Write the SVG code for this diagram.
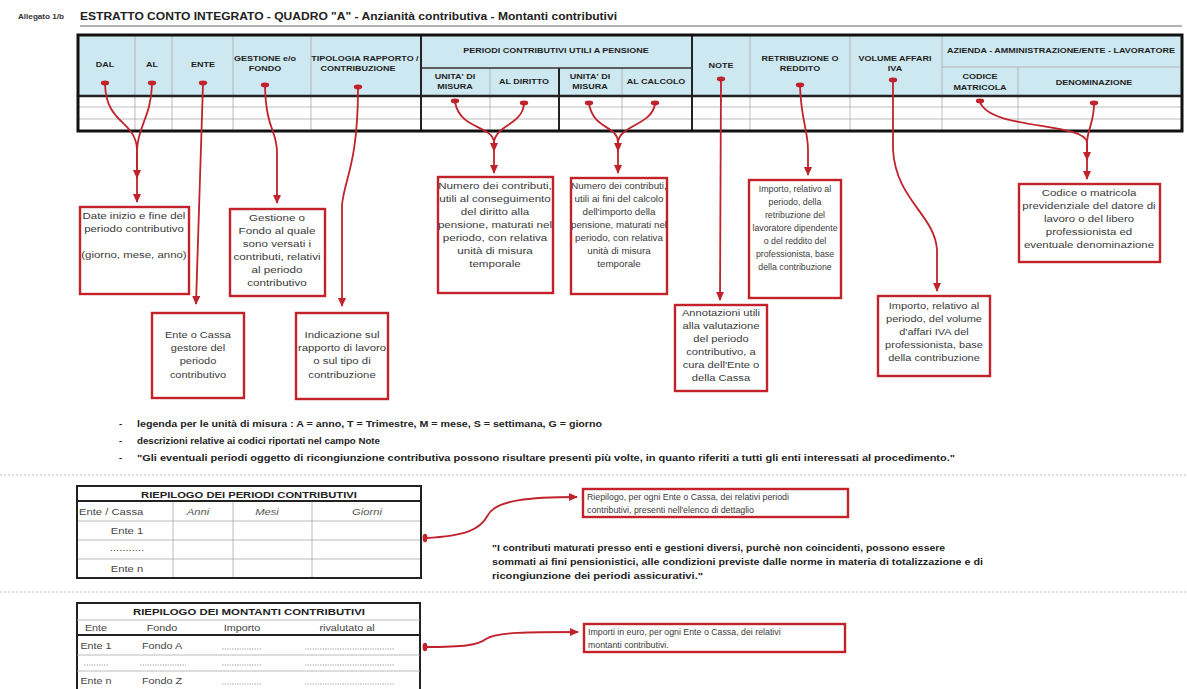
<svg xmlns="http://www.w3.org/2000/svg" width="1187" height="689" viewBox="0 0 1187 689">
<style>
text{font-family:"Liberation Sans",Arial,sans-serif}
.hd{font-size:7.5px;font-weight:bold;fill:#1e1e1e;text-anchor:middle}
.bx{fill:#fff;stroke:#c4222b;stroke-width:2.4}
.bt{font-size:8.8px;fill:#3a3a3a;text-anchor:middle}
.btl{font-size:8.8px;fill:#3a3a3a}
.con{fill:none;stroke:#c0232c;stroke-width:1.8}
.dot{fill:#c0232c}
.thin{stroke:#aaa;stroke-width:0.8}
.thick{stroke:#222;stroke-width:2}
.lg{font-size:9.4px;font-weight:bold;fill:#222}
.tt{font-size:9px;fill:#444}
.ti{font-size:9px;fill:#555;font-style:italic;text-anchor:middle}
.sep{stroke:#bbb;stroke-width:1;stroke-dasharray:2 2}
</style>
<defs>
<marker id="arr" markerWidth="9" markerHeight="8" refX="8" refY="4" orient="auto" markerUnits="userSpaceOnUse" viewBox="0 0 9 8">
<path d="M0,0 L9,4 L0,8 Z" fill="#c0232c"/>
</marker>
</defs>

<rect width="1187" height="689" fill="#fff"/>

<!-- header -->
<g id="header">
<text x="18" y="19" font-size="7.5" font-weight="bold" fill="#333" textLength="46" lengthAdjust="spacingAndGlyphs">Allegato 1/b</text>
<text x="80" y="20" font-size="10.6" font-weight="bold" fill="#222" textLength="537" lengthAdjust="spacingAndGlyphs">ESTRATTO CONTO INTEGRATO - QUADRO "A" - Anzianità contributiva - Montanti contributivi</text>
<line x1="80" y1="26" x2="1182" y2="26" stroke="#999" stroke-width="1.6"/>
</g>

<!-- main table -->
<g id="main-table">
<rect x="78" y="35" width="1104" height="96" fill="#fff"/>
<rect x="78" y="35" width="1104" height="61" fill="#cde8f0"/>
<g class="thin">
<line x1="78" y1="107" x2="1182" y2="107"/>
<line x1="78" y1="119" x2="1182" y2="119"/>
<line x1="135" y1="35" x2="135" y2="131"/>
<line x1="172" y1="35" x2="172" y2="131"/>
<line x1="233" y1="35" x2="233" y2="131"/>
<line x1="311" y1="35" x2="311" y2="131"/>
<line x1="490" y1="68" x2="490" y2="131"/>
<line x1="622" y1="68" x2="622" y2="131"/>
<line x1="750" y1="35" x2="750" y2="131"/>
<line x1="850" y1="35" x2="850" y2="131"/>
<line x1="942" y1="35" x2="942" y2="131"/>
<line x1="1018" y1="67" x2="1018" y2="131"/>
<line x1="942" y1="67" x2="1182" y2="67"/>
</g>
<line x1="421" y1="35" x2="421" y2="131" class="thick"/>
<line x1="559" y1="68" x2="559" y2="131" class="thick"/>
<line x1="692" y1="35" x2="692" y2="131" class="thick"/>
<line x1="421" y1="68" x2="692" y2="68" stroke="#333" stroke-width="1.5"/>
<line x1="78" y1="96" x2="1182" y2="96" stroke="#222" stroke-width="2.5"/>
<rect x="78" y="35" width="1104" height="96" fill="none" stroke="#111" stroke-width="3"/>
<g transform="scale(1.2,1)">
<text class="hd" x="87.5" y="67">DAL</text>
<text class="hd" x="126.67" y="67">AL</text>
<text class="hd" x="169.17" y="67">ENTE</text>
<text class="hd" x="220.83" y="61">GESTIONE e/o</text>
<text class="hd" x="220.83" y="71">FONDO</text>
<text class="hd" x="304.17" y="61">TIPOLOGIA RAPPORTO /</text>
<text class="hd" x="298.33" y="71">CONTRIBUZIONE</text>
<text class="hd" x="463.33" y="53">PERIODI CONTRIBUTIVI UTILI A PENSIONE</text>
<text class="hd" x="379.17" y="79">UNITA' DI</text>
<text class="hd" x="379.17" y="89">MISURA</text>
<text class="hd" x="436.67" y="84">AL DIRITTO</text>
<text class="hd" x="491.67" y="79">UNITA' DI</text>
<text class="hd" x="491.67" y="89">MISURA</text>
<text class="hd" x="546.67" y="84">AL CALCOLO</text>
<text class="hd" x="600.83" y="68">NOTE</text>
<text class="hd" x="666.67" y="61">RETRIBUZIONE O</text>
<text class="hd" x="666.67" y="71">REDDITO</text>
<text class="hd" x="745.83" y="61">VOLUME AFFARI</text>
<text class="hd" x="745.83" y="71">IVA</text>
<text class="hd" x="884.17" y="53">AZIENDA - AMMINISTRAZIONE/ENTE - LAVORATORE</text>
<text class="hd" x="816.67" y="79">CODICE</text>
<text class="hd" x="816.67" y="90">MATRICOLA</text>
<text class="hd" x="911.67" y="85">DENOMINAZIONE</text>
</g>
</g>

<!-- connectors -->
<g id="connectors">
<g class="con">
<path d="M105,84 C106,125 136,120 137,150 L137,178" marker-end="url(#arr)"/>
<path d="M152,84 C151,118 138,125 137,150 L137,202" marker-end="url(#arr)"/>
<path d="M203,84 L196,304" marker-end="url(#arr)"/>
<path d="M265,86 C266,130 277,130 277,152 L277,203" marker-end="url(#arr)"/>
<path d="M358,88 C358,165 344,180 342,205 L342,306" marker-end="url(#arr)"/>
<path d="M455,102 C460,130 492,125 494,142 L494,151" marker-end="url(#arr)"/>
<path d="M524,104 C522,125 496,125 494,142 L494,173" marker-end="url(#arr)"/>
<path d="M589,104 C594,130 617,125 618,142 L618,173" marker-end="url(#arr)"/>
<path d="M655,104 C652,125 620,125 618,142 L618,151" marker-end="url(#arr)"/>
<path d="M721,80 L720,300" marker-end="url(#arr)"/>
<path d="M800,86 C801,120 808,130 808,150 L808,175" marker-end="url(#arr)"/>
<path d="M893,81 L893,150 C896,200 935,215 937,250 L937,291" marker-end="url(#arr)"/>
<path d="M980,102 C990,130 1083,122 1087,142 L1087,160" marker-end="url(#arr)"/>
<path d="M1094,104 C1094,122 1088,128 1087,142 L1087,179" marker-end="url(#arr)"/>
<path d="M426,538 C465,536 480,530 488,515 C496,500 530,497 577,497" marker-end="url(#arr)"/>
<path d="M426,647 C465,647 478,645 486,639 C496,632 530,632 578,632" marker-end="url(#arr)"/>
</g>
<g class="dot">
<ellipse cx="105" cy="83" rx="4.2" ry="2.4"/>
<ellipse cx="152" cy="83" rx="4.2" ry="2.4"/>
<ellipse cx="203" cy="83" rx="4.2" ry="2.4"/>
<ellipse cx="265" cy="85" rx="4.2" ry="2.4"/>
<ellipse cx="358" cy="87" rx="4.2" ry="2.4"/>
<ellipse cx="455" cy="101" rx="4.2" ry="2.4"/>
<ellipse cx="524" cy="103" rx="4.2" ry="2.4"/>
<ellipse cx="589" cy="103" rx="4.2" ry="2.4"/>
<ellipse cx="655" cy="103" rx="4.2" ry="2.4"/>
<ellipse cx="721" cy="79" rx="4.2" ry="2.4"/>
<ellipse cx="800" cy="85" rx="4.2" ry="2.4"/>
<ellipse cx="893" cy="80" rx="4.2" ry="2.4"/>
<ellipse cx="980" cy="101" rx="4.2" ry="2.4"/>
<ellipse cx="1094" cy="103" rx="4.2" ry="2.4"/>
<ellipse cx="425" cy="538" rx="2.4" ry="4.2"/>
<ellipse cx="425" cy="647" rx="2.4" ry="4.2"/>
</g>
</g>

<!-- description boxes -->
<g id="box-date">
<rect class="bx" x="80" y="207" width="109" height="87"/>
<g transform="matrix(1.3,0,0,1,-40.2,0)">
<text class="bt" x="134" y="219">Date inizio e fine del</text>
<text class="bt" x="134" y="232">periodo contributivo</text>
<text class="bt" x="134" y="258" font-size="7">(giorno, mese, anno)</text>
</g>
</g>
<g id="box-gestione">
<rect class="bx" x="230" y="209" width="95" height="87"/>
<g transform="matrix(1.32,0,0,1,-88.64,0)">
<text class="bt" x="277" y="221">Gestione o</text>
<text class="bt" x="277" y="234">Fondo al quale</text>
<text class="bt" x="277" y="247">sono versati i</text>
<text class="bt" x="277" y="260">contributi, relativi</text>
<text class="bt" x="277" y="273">al periodo</text>
<text class="bt" x="277" y="286">contributivo</text>
</g>
</g>
<g id="box-diritto">
<rect class="bx" x="438" y="177" width="115" height="116"/>
<g transform="matrix(1.32,0,0,1,-158.4,0)">
<text class="bt" x="495" y="189">Numero dei contributi,</text>
<text class="bt" x="495" y="202">utili al conseguimento</text>
<text class="bt" x="495" y="215">del diritto alla</text>
<text class="bt" x="495" y="228">pensione, maturati nel</text>
<text class="bt" x="495" y="241">periodo, con relativa</text>
<text class="bt" x="495" y="254">unità di misura</text>
<text class="bt" x="495" y="267">temporale</text>
</g>
</g>
<g id="box-calcolo">
<rect class="bx" x="571" y="178" width="96" height="116"/>
<g transform="matrix(1.11,0,0,1,-68.09,0)">
<text class="bt" x="619" y="189">Numero dei contributi,</text>
<text class="bt" x="619" y="202">utili ai fini del calcolo</text>
<text class="bt" x="619" y="215">dell'importo della</text>
<text class="bt" x="619" y="228">pensione, maturati nel</text>
<text class="bt" x="619" y="241">periodo, con relativa</text>
<text class="bt" x="619" y="254">unità di misura</text>
<text class="bt" x="619" y="267">temporale</text>
</g>
</g>
<g id="box-retribuzione">
<rect class="bx" x="749" y="180" width="92" height="118"/>
<text class="bt" x="795" y="192">Importo, relativo al</text>
<text class="bt" x="795" y="205">periodo, della</text>
<text class="bt" x="795" y="218">retribuzione del</text>
<text class="bt" x="795" y="231">lavoratore dipendente</text>
<text class="bt" x="795" y="244">o del reddito del</text>
<text class="bt" x="795" y="257">professionista, base</text>
<text class="bt" x="795" y="270">della contribuzione</text>
</g>
<g id="box-codice">
<rect class="bx" x="1019" y="184" width="141" height="78"/>
<g transform="matrix(1.3,0,0,1,-326.7,0)">
<text class="bt" x="1089" y="196">Codice o matricola</text>
<text class="bt" x="1089" y="209">previdenziale del datore di</text>
<text class="bt" x="1089" y="222">lavoro o del libero</text>
<text class="bt" x="1089" y="235">professionista ed</text>
<text class="bt" x="1089" y="248">eventuale denominazione</text>
</g>
</g>
<g id="box-ente">
<rect class="bx" x="152" y="313" width="92" height="85"/>
<g transform="matrix(1.25,0,0,1,-49.5,0)">
<text class="bt" x="198" y="338">Ente o Cassa</text>
<text class="bt" x="198" y="351">gestore del</text>
<text class="bt" x="198" y="364">periodo</text>
<text class="bt" x="198" y="378">contributivo</text>
</g>
</g>
<g id="box-tipologia">
<rect class="bx" x="296" y="313" width="92" height="86"/>
<g transform="matrix(1.29,0,0,1,-99.18,0)">
<text class="bt" x="342" y="338">Indicazione sul</text>
<text class="bt" x="342" y="351">rapporto di lavoro</text>
<text class="bt" x="342" y="364">o sul tipo di</text>
<text class="bt" x="342" y="378">contribuzione</text>
</g>
</g>
<g id="box-note">
<rect class="bx" x="675" y="305" width="92" height="86"/>
<g transform="matrix(1.27,0,0,1,-194.67,0)">
<text class="bt" x="721" y="316">Annotazioni utili</text>
<text class="bt" x="721" y="329">alla valutazione</text>
<text class="bt" x="721" y="342">del periodo</text>
<text class="bt" x="721" y="355">contributivo, a</text>
<text class="bt" x="721" y="368">cura dell'Ente o</text>
<text class="bt" x="721" y="381">della Cassa</text>
</g>
</g>
<g id="box-iva">
<rect class="bx" x="878" y="296" width="112" height="80"/>
<g transform="matrix(1.25,0,0,1,-233.5,0)">
<text class="bt" x="934" y="309">Importo, relativo al</text>
<text class="bt" x="934" y="322">periodo, del volume</text>
<text class="bt" x="934" y="335">d'affari IVA del</text>
<text class="bt" x="934" y="348">professionista, base</text>
<text class="bt" x="934" y="361">della contribuzione</text>
</g>
</g>

<!-- legend -->
<g id="legend">
<text class="lg" x="119" y="427">-</text>
<text class="lg" x="119" y="444">-</text>
<text class="lg" x="119" y="461">-</text>
<text class="lg" x="137" y="427" textLength="465" lengthAdjust="spacingAndGlyphs">legenda per le unità di misura : A = anno, T = Trimestre, M = mese, S = settimana, G = giorno</text>
<text class="lg" x="137" y="444" textLength="243" lengthAdjust="spacingAndGlyphs">descrizioni relative ai codici riportati nel campo Note</text>
<text class="lg" x="137" y="461" textLength="818" lengthAdjust="spacingAndGlyphs">"Gli eventuali periodi oggetto di ricongiunzione contributiva possono risultare presenti più volte, in quanto riferiti a tutti gli enti interessati al procedimento."</text>
</g>

<line class="sep" x1="0" y1="475" x2="1187" y2="475"/>
<line class="sep" x1="0" y1="592" x2="1187" y2="592"/>

<!-- riepilogo periodi -->
<g id="riepilogo-periodi">
<rect x="77" y="486" width="344" height="92" fill="#fff"/>
<g class="thin">
<line x1="173" y1="501" x2="173" y2="578"/>
<line x1="233" y1="501" x2="233" y2="578"/>
<line x1="312" y1="501" x2="312" y2="578"/>
<line x1="77" y1="521" x2="421" y2="521"/>
<line x1="77" y1="540" x2="421" y2="540"/>
<line x1="77" y1="559" x2="421" y2="559"/>
</g>
<line x1="77" y1="501" x2="421" y2="501" stroke="#222" stroke-width="2"/>
<rect x="77" y="486" width="344" height="92" fill="none" stroke="#222" stroke-width="2"/>
<text x="249" y="498" font-size="9.5" font-weight="bold" fill="#222" text-anchor="middle" transform="matrix(1.18,0,0,1,-44.82,0)">RIEPILOGO DEI PERIODI CONTRIBUTIVI</text>
<g transform="scale(1.25,1)">
<text class="tt" x="63.2" y="515">Ente / Cassa</text>
<text class="ti" x="158.4" y="515">Anni</text>
<text class="ti" x="213.6" y="515">Mesi</text>
<text class="ti" x="293.6" y="515">Giorni</text>
<text class="tt" x="101.6" y="534" text-anchor="middle">Ente 1</text>
<text class="tt" x="101.6" y="551" text-anchor="middle" font-size="6">...........</text>
<text class="tt" x="101.6" y="572" text-anchor="middle">Ente n</text>
</g>
</g>

<g id="box-riepilogo">
<rect class="bx" x="583" y="489" width="265" height="28"/>
<text class="btl" x="587" y="500">Riepilogo, per ogni Ente o Cassa, dei relativi periodi</text>
<text class="btl" x="587" y="513">contributivi, presenti nell'elenco di dettaglio</text>
</g>

<g id="quote">
<text class="lg" x="492" y="551" textLength="453" lengthAdjust="spacingAndGlyphs">"I contributi maturati presso enti e gestioni diversi, purchè non coincidenti, possono essere</text>
<text class="lg" x="492" y="565" textLength="491" lengthAdjust="spacingAndGlyphs">sommati ai fini pensionistici, alle condizioni previste dalle norme in materia di totalizzazione e di</text>
<text class="lg" x="492" y="579" textLength="211" lengthAdjust="spacingAndGlyphs">ricongiunzione dei periodi assicurativi."</text>
</g>

<!-- riepilogo montanti -->
<g id="riepilogo-montanti">
<rect x="77" y="603" width="343" height="90" fill="#fff" stroke="#222" stroke-width="2"/>
<line x1="77" y1="620" x2="420" y2="620" class="thin"/>
<line x1="77" y1="635" x2="420" y2="635" stroke="#222" stroke-width="2"/>
<line x1="77" y1="655" x2="420" y2="655" class="thin"/>
<line x1="77" y1="671" x2="420" y2="671" class="thin"/>
<text x="249" y="615" font-size="9.5" font-weight="bold" fill="#222" text-anchor="middle" transform="matrix(1.2,0,0,1,-49.8,0)">RIEPILOGO DEI MONTANTI CONTRIBUTIVI</text>
<g transform="scale(1.2,1)">
<text class="tt" x="80" y="631" text-anchor="middle">Ente</text>
<text class="tt" x="135" y="631" text-anchor="middle">Fondo</text>
<text class="tt" x="201.67" y="631" text-anchor="middle">Importo</text>
<text class="tt" x="289.17" y="631" text-anchor="middle">rivalutato al</text>
<text class="tt" x="80" y="649" text-anchor="middle">Ente 1</text>
<text class="tt" x="135" y="649" text-anchor="middle">Fondo A</text>
<text class="tt" x="80" y="684" text-anchor="middle">Ente n</text>
<text class="tt" x="135" y="684" text-anchor="middle">Fondo Z</text>
</g>
<g stroke="#999" stroke-width="0.8" stroke-dasharray="1.5 1">
<line x1="222" y1="649" x2="262" y2="649"/>
<line x1="305" y1="649" x2="395" y2="649"/>
<line x1="84" y1="665" x2="108" y2="665"/>
<line x1="140" y1="665" x2="186" y2="665"/>
<line x1="222" y1="665" x2="262" y2="665"/>
<line x1="305" y1="665" x2="395" y2="665"/>
<line x1="222" y1="684" x2="262" y2="684"/>
<line x1="305" y1="684" x2="395" y2="684"/>
</g>
</g>

<g id="box-montanti">
<rect class="bx" x="584" y="624" width="261" height="28"/>
<text class="btl" x="588" y="635">Importi in euro, per ogni Ente o Cassa, dei relativi</text>
<text class="btl" x="588" y="648">montanti  contributivi.</text>
</g>
</svg>
